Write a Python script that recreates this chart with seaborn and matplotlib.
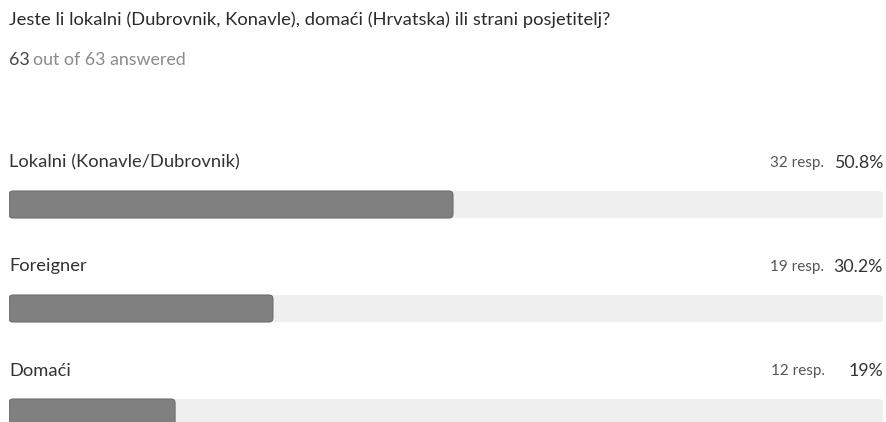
import matplotlib
matplotlib.use("Agg")
import matplotlib.pyplot as plt
import seaborn as sns
import pandas as pd
from matplotlib.patches import FancyBboxPatch

title = "Jeste li lokalni (Dubrovnik, Konavle), domaći (Hrvatska) ili strani posjetitelj?"
answered = 63
total = 63
categories = ["Lokalni (Konavle/Dubrovnik)", "Foreigner", "Domaći"]
responses = [32, 19, 12]
percents = [50.8, 30.2, 19.0]
pct_labels = ["50.8%", "30.2%", "19%"]

df = pd.DataFrame({"category": categories, "pct": percents, "track": [100] * len(categories)})

sns.set_theme(style="white")
plt.rcParams["font.family"] = ["Lato", "DejaVu Sans"]

W, H = 886, 422
fig = plt.figure(figsize=(W / 100, H / 100), dpi=100)
left_px, right_px = 9, 883
ax = fig.add_axes([left_px / W, 0, (right_px - left_px) / W, 1])

row0, step, bar_px = 204.5, 104.0, 27.0
ylo = -row0 / step
yhi = (H - row0) / step
bw = bar_px / step

sns.barplot(data=df, x="track", y="category", orient="h", color="#efefef",
            width=bw, ax=ax, saturation=1, linewidth=0)
sns.barplot(data=df, x="pct", y="category", orient="h", color="#808080",
            width=bw, ax=ax, saturation=1, edgecolor="#6e6e6e", linewidth=0.8)

ax.set_xlim(0, 100)
ax.set_ylim(yhi, ylo)
ax.axis("off")

# rounded corners
xunit = 100 / (right_px - left_px)
yunit = 1 / step
for i, p in enumerate(list(ax.patches)):
    x0, y0 = p.get_x(), p.get_y()
    w, h = p.get_width(), p.get_height()
    fb = FancyBboxPatch((x0, y0), w, h,
                        boxstyle=f"round,pad=0,rounding_size={4 * xunit}",
                        mutation_aspect=yunit / xunit,
                        facecolor=p.get_facecolor(), edgecolor=p.get_edgecolor(),
                        linewidth=p.get_linewidth(), zorder=p.get_zorder())
    p.remove()
    ax.add_patch(fb)

# texts
fig.text(9 / W, 1 - 20 / H, title, fontsize=13.2, color="#2b2b2b", va="center", ha="left")
t = fig.text(9 / W, 1 - 60 / H, str(answered), fontsize=12.8, color="#444444", va="center", ha="left")
fig.canvas.draw()
bb = t.get_window_extent()
fig.text(bb.x1 / W + 3 / W, 1 - 60 / H, f"out of {total} answered", fontsize=12.8,
         color="#8a8a8a", va="center", ha="left")

for i, (cat, r, pl) in enumerate(zip(categories, responses, pct_labels)):
    ypx = row0 + step * i - 42
    fig.text(9 / W, 1 - ypx / H, cat, fontsize=13.2, color="#333333", va="center", ha="left")
    pt = fig.text(right_px / W, 1 - ypx / H, pl, fontsize=12.8, color="#333333", va="center", ha="right")
    fig.canvas.draw()
    pb = pt.get_window_extent()
    rx = min(pb.x0, right_px - 48) - 10
    fig.text(rx / W, 1 - ypx / H, f"{r} resp.", fontsize=11, color="#555555", va="center", ha="right")

fig.savefig("out.png", dpi=100, facecolor="white")
